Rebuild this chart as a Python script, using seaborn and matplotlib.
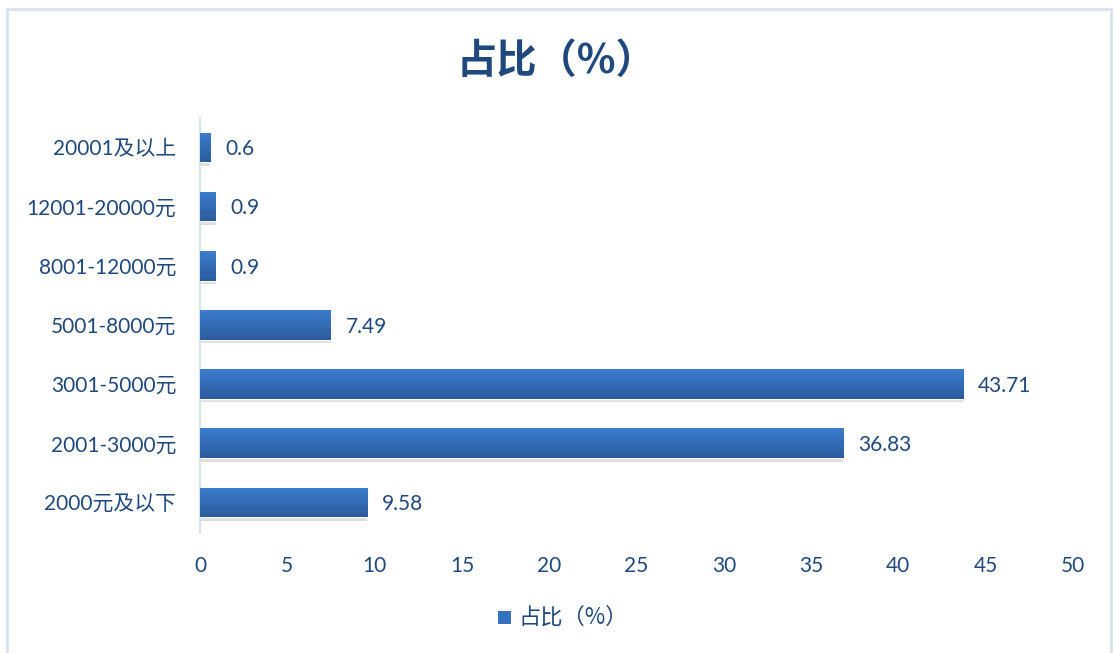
import numpy as np
import pandas as pd
import matplotlib
matplotlib.use("Agg")
import matplotlib.pyplot as plt
import seaborn as sns
from matplotlib.patches import Rectangle
from matplotlib.colors import LinearSegmentedColormap

categories = ["20001及以上", "12001-20000元", "8001-12000元", "5001-8000元",
              "3001-5000元", "2001-3000元", "2000元及以下"]
values = [0.6, 0.9, 0.9, 7.49, 43.71, 36.83, 9.58]
value_labels = ["0.6", "0.9", "0.9", "7.49", "43.71", "36.83", "9.58"]
xticks = [0, 5, 10, 15, 20, 25, 30, 35, 40, 45, 50]
series_name = "占比（%）"

sns.set_theme(style="white")
plt.rcParams['font.family'] = ['Lato', 'Noto Sans CJK SC', 'DejaVu Sans']

TEXT = "#1F497D"
BAR = "#3472C0"

df = pd.DataFrame({"cat": categories, "val": values})

fig = plt.figure(figsize=(11.14, 6.53), dpi=100)
ax = fig.add_axes([200/1114, 1-532/653, 873/1114, 414/653])

sns.barplot(data=df, y="cat", x="val", color=BAR, orient="h", width=0.5,
            saturation=1, ax=ax, order=categories)

# gradient fill + soft shadow
grad = np.linspace(0, 1, 256).reshape(-1, 1)
cmap = LinearSegmentedColormap.from_list("g", ["#3B7DCE", "#2C5B9C"])
for p in list(ax.patches):
    x0, y0 = p.get_x(), p.get_y()
    w, h = p.get_width(), p.get_height()
    sh = Rectangle((x0, y0 + h), w, 0.06, facecolor="#BFBFBF", alpha=0.5,
                   edgecolor="none", zorder=1)
    ax.add_patch(sh)
    im = ax.imshow(grad, extent=[x0, x0 + w, y0 + h, y0], aspect="auto",
                   cmap=cmap, zorder=3)
    im.set_clip_path(p)
    p.set_zorder(2)

for i, (v, lab) in enumerate(zip(values, value_labels)):
    ax.text(v + 0.85, i + 0.03, lab, va="center", ha="left", fontsize=15, color=TEXT)

ax.set_xlim(0, 50)
ax.set_ylim(len(categories) - 0.5, -0.5)
ax.set_xticks(xticks)
ax.set_xticklabels([str(t) for t in xticks], fontsize=15, color=TEXT)
ax.tick_params(axis="y", labelsize=15, labelcolor=TEXT, length=0, pad=17)
ax.tick_params(axis="x", length=0, pad=17)
ax.set_xlabel("")
ax.set_ylabel("")
for s in ["top", "right", "bottom"]:
    ax.spines[s].set_visible(False)
ax.spines["left"].set_color("#D9E2F0")
ax.spines["left"].set_linewidth(1.5)
ax.grid(False)

fig.text(0.5, 1 - 61/653, "占比（%）", ha="center", va="center", fontsize=29,
         fontweight="bold", color=TEXT, family=['Noto Sans CJK SC', 'DejaVu Sans'])

# legend
fig.patches.append(Rectangle((498/1114, 1 - 624/653), 13/1114, 13/653,
                             transform=fig.transFigure, facecolor=BAR,
                             edgecolor="none"))
fig.text(518/1114, 1 - 617/653, series_name, ha="left", va="center",
         fontsize=16, color=TEXT, family=['Noto Sans CJK SC', 'DejaVu Sans'])

# outer frame
fig.patches.append(Rectangle((7/1114, -0.05), 1104/1114, 1 - 9/653 + 0.05,
                             transform=fig.transFigure, fill=False,
                             edgecolor="#D9E2F0", linewidth=2))

fig.savefig("out.png", dpi=100)
